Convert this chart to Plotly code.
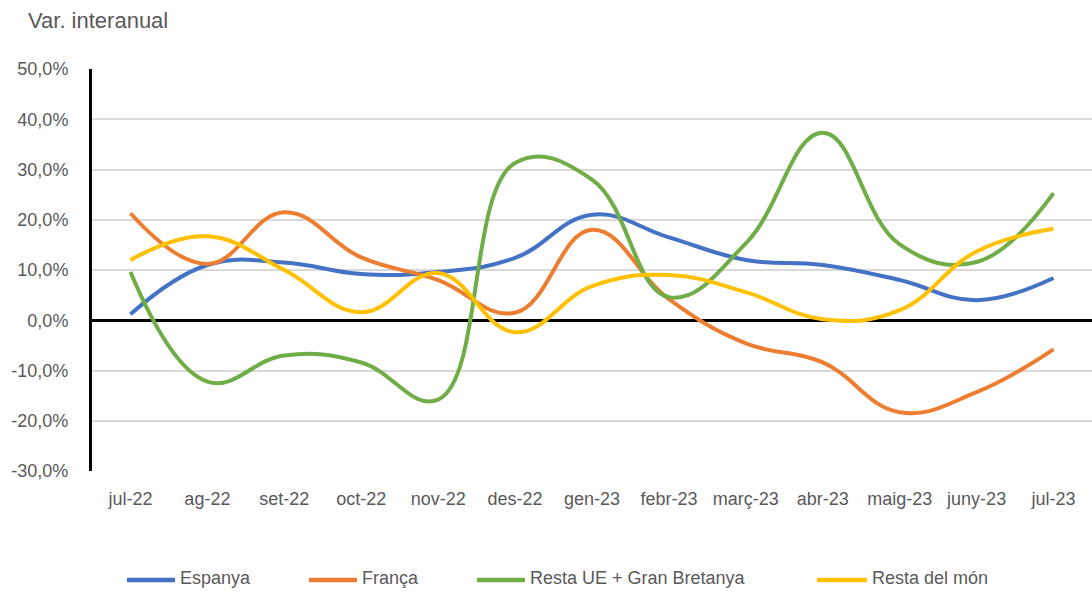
import plotly.graph_objects as go

months = ["jul-22", "ag-22", "set-22", "oct-22", "nov-22", "des-22", "gen-23",
          "febr-23", "març-23", "abr-23", "maig-23", "juny-23", "jul-23"]
espanya = [1.2, 11.0, 11.5, 9.2, 9.6, 12.4, 21.0, 16.5, 12.0, 11.0, 8.0, 4.0, 8.4]
franca = [21.3, 11.2, 21.5, 12.5, 8.0, 1.5, 18.0, 4.2, -4.6, -8.4, -18.3, -14.3, -5.8]
resta_ue = [9.6, -12.2, -7.0, -8.4, -15.8, 31.3, 28.0, 4.6, 15.3, 37.3, 15.1, 11.6, 25.3]
resta_mon = [12.0, 16.7, 10.0, 1.6, 9.4, -2.4, 6.8, 9.0, 5.6, 0.2, 2.0, 13.7, 18.2]
y_ticks = [-30, -20, -10, 0, 10, 20, 30, 40, 50]
y_tick_labels = ["-30,0%", "-20,0%", "-10,0%", "0,0%", "10,0%", "20,0%", "30,0%", "40,0%", "50,0%"]

series = [
    ("Espanya", espanya, "#4472C4"),
    ("França", franca, "#ED7D31"),
    ("Resta UE + Gran Bretanya", resta_ue, "#70AD47"),
    ("Resta del món", resta_mon, "#FFC000"),
]

W, H = 1092, 592
L, R, T, B = 92, 0, 69, 121
PW, PH = W - L - R, H - T - B

def px_x(px):
    return (px - L) / PW

def px_y(py):
    return (H - B - py) / PH

font_family = "Liberation Sans, Arial"
txt_color = "#595959"
fig = go.Figure()
xs = list(range(len(months)))
for name, vals, color in series:
    fig.add_trace(go.Scatter(
        x=xs, y=vals, name=name, mode="lines",
        line=dict(color=color, width=4, shape="spline", smoothing=1.2),
        showlegend=False,
    ))

# custom legend (line sample + label)
legend_pos = [(125, 178), (307, 360), (475, 528), (815, 870)]
shapes = []
annotations = [dict(text="Var. interanual", xref="paper", yref="paper",
                    x=px_x(26), y=px_y(20), xanchor="left", yanchor="middle",
                    showarrow=False, font=dict(size=22, color=txt_color))]
for (name, vals, color), (lx, tx) in zip(series, legend_pos):
    shapes.append(dict(type="line", xref="paper", yref="paper",
                       x0=px_x(lx + 2), x1=px_x(tx - 3), y0=px_y(580), y1=px_y(580),
                       line=dict(color=color, width=4.5)))
    annotations.append(dict(text=name, xref="paper", yref="paper",
                            x=px_x(tx), y=px_y(578), xanchor="left", yanchor="middle",
                            showarrow=False, font=dict(size=18, color=txt_color)))

fig.update_layout(
    width=W, height=H,
    margin=dict(l=L, r=R, t=T, b=B, autoexpand=False),
    paper_bgcolor="white", plot_bgcolor="white",
    font=dict(family=font_family, size=18, color=txt_color),
    showlegend=False,
    shapes=shapes,
    annotations=annotations,
)
fig.update_xaxes(
    tickmode="array", tickvals=xs, ticktext=months, range=[-0.5, 12.5],
    showgrid=False, zeroline=False, showline=False, ticks="",
    tickfont=dict(size=18, color=txt_color), ticklabelstandoff=15,
    automargin=False,
)
fig.update_yaxes(
    range=[-30, 50], tickmode="array", tickvals=y_ticks, ticktext=y_tick_labels,
    showgrid=True, gridcolor="#D9D9D9", gridwidth=1.5,
    zeroline=True, zerolinecolor="black", zerolinewidth=3,
    showline=True, linecolor="black", linewidth=3, ticks="",
    tickfont=dict(size=18, color=txt_color), ticklabelstandoff=17,
    automargin=False,
)
fig.write_html("out.html", config={"displayModeBar": False},
               post_script="document.body.style.margin='0';document.body.style.overflow='hidden';")
